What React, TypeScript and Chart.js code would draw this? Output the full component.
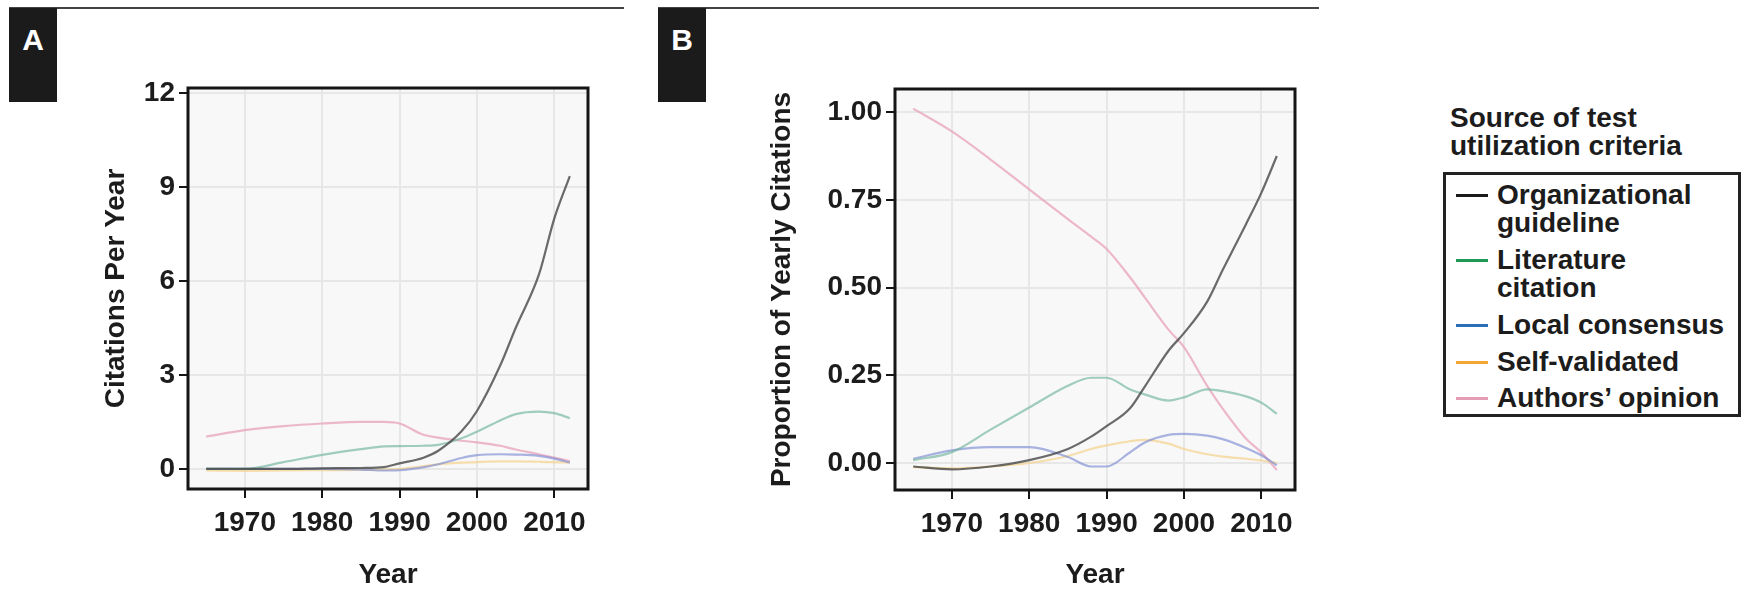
import { useEffect, useRef } from "react";
import { Chart, registerables } from "chart.js";
Chart.register(...registerables);

// ---------- data ----------
const years = [1965, 1970, 1975, 1980, 1985, 1988, 1990, 1993, 1995, 1998, 2000, 2003, 2005, 2008, 2010, 2012];
const seriesNames = ["Organizational guideline", "Literature citation", "Local consensus", "Self-validated", "Authors’ opinion"];

// Panel A: citations per year
const orgA = [0.0, 0.0, 0.0, 0.02, 0.03, 0.06, 0.18, 0.35, 0.58, 1.2, 1.85, 3.3, 4.5, 6.2, 8.0, 9.35];
const litA = [0.0, 0.0, 0.22, 0.45, 0.63, 0.72, 0.73, 0.74, 0.77, 0.98, 1.19, 1.55, 1.75, 1.83, 1.78, 1.62];
const locA = [0.0, 0.0, 0.0, 0.0, -0.02, -0.05, -0.04, 0.05, 0.15, 0.35, 0.44, 0.47, 0.46, 0.42, 0.33, 0.2];
const selfA = [-0.05, -0.06, -0.05, -0.04, -0.03, -0.02, 0.0, 0.08, 0.15, 0.2, 0.22, 0.24, 0.24, 0.23, 0.22, 0.2];
const authA = [1.03, 1.24, 1.37, 1.45, 1.5, 1.5, 1.45, 1.1, 1.0, 0.9, 0.85, 0.74, 0.62, 0.47, 0.36, 0.25];

// Panel B: proportion of yearly citations
const orgB = [-0.01, -0.018, -0.01, 0.008, 0.04, 0.075, 0.105, 0.155, 0.22, 0.32, 0.37, 0.46, 0.55, 0.68, 0.77, 0.875];
const litB = [0.008, 0.031, 0.095, 0.158, 0.22, 0.243, 0.243, 0.21, 0.195, 0.178, 0.187, 0.21, 0.205, 0.19, 0.172, 0.14];
const locB = [0.012, 0.036, 0.045, 0.045, 0.017, -0.01, -0.01, 0.03, 0.059, 0.08, 0.083, 0.078, 0.068, 0.043, 0.022, -0.007];
const selfB = [-0.012, -0.015, -0.01, 0.0, 0.02, 0.04, 0.05, 0.062, 0.066, 0.055, 0.04, 0.025, 0.018, 0.012, 0.007, 0.0];
const authB = [1.01, 0.945, 0.865, 0.78, 0.695, 0.645, 0.61, 0.53, 0.47, 0.38, 0.33, 0.22, 0.155, 0.07, 0.03, -0.02];

const xTicks = [1970, 1980, 1990, 2000, 2010];
const yTicksA = [0, 3, 6, 9, 12];
const yTicksB = [0, 0.25, 0.5, 0.75, 1.0];

// ---------- styles ----------
const lineColors = [
  "rgba(70,70,70,0.8)",
  "rgba(110,180,155,0.65)",
  "rgba(125,140,210,0.65)",
  "rgba(245,210,140,0.7)",
  "rgba(232,158,184,0.72)",
];
const legendColors = ["#1a1a1a", "#1f9a55", "#2a6fb8", "#f4a733", "#e39bb6"];
const FONT = '"Liberation Sans", Arial, Helvetica, sans-serif';
const TEXT = "#1c1c1c";

const framePlugin = {
  id: "frame",
  beforeDraw(chart: any) {
    const { ctx, chartArea } = chart;
    const { left, top, width, height } = chartArea;
    ctx.save();
    ctx.fillStyle = "#f8f8f8";
    ctx.fillRect(left, top, width, height);
    ctx.restore();
  },
  afterDraw(chart: any) {
    const { ctx, chartArea } = chart;
    const { left, top, width, height } = chartArea;
    ctx.save();
    ctx.strokeStyle = "#151515";
    ctx.lineWidth = 3;
    ctx.strokeRect(left, top, width, height);
    ctx.restore();
  },
};

type PanelCfg = {
  series: number[][];
  yMin: number;
  yMax: number;
  yTicks: number[];
  yFmt: (v: number) => string;
  yTitle: string;
  padding: { left: number; right: number; top: number; bottom: number };
  yAxisWidth: number;
  xAxisHeight: number;
  yTitlePad: number;
};

function makeChart(canvas: HTMLCanvasElement, cfg: PanelCfg) {
  const tickFont = { family: FONT, size: 28, weight: "bold" as const, lineHeight: 1.2 };
  const titleFont = { family: FONT, size: 28, weight: "bold" as const, lineHeight: 1.0 };
  return new Chart(canvas, {
    type: "line",
    data: {
      datasets: cfg.series.map((vals, i) => ({
        label: seriesNames[i],
        data: years.map((yr, j) => ({ x: yr, y: vals[j] })),
        borderColor: lineColors[i],
        backgroundColor: lineColors[i],
        borderWidth: 2.2,
        pointRadius: 0,
        fill: false,
        cubicInterpolationMode: "monotone" as const,
      })),
    },
    options: {
      responsive: false,
      animation: false,
      devicePixelRatio: 1,
      layout: { padding: cfg.padding },
      plugins: { legend: { display: false }, tooltip: { enabled: false } },
      scales: {
        x: {
          type: "linear",
          min: 1962.65,
          max: 2014.35,
          afterBuildTicks: (s: any) => {
            s.ticks = xTicks.map((v) => ({ value: v }));
          },
          afterFit: (s: any) => {
            s.height = cfg.xAxisHeight;
          },
          grid: { color: "#e7e7e7", lineWidth: 2, tickColor: "#151515", tickWidth: 2, tickLength: 9 },
          border: { display: false },
          ticks: { font: tickFont, color: TEXT, padding: 8, maxRotation: 0, autoSkip: false, callback: (v: any) => String(v) },
          title: { display: true, text: "Year", font: titleFont, color: TEXT, padding: { top: 0, bottom: 1 } },
        },
        y: {
          type: "linear",
          min: cfg.yMin,
          max: cfg.yMax,
          afterBuildTicks: (s: any) => {
            s.ticks = cfg.yTicks.map((v) => ({ value: v }));
          },
          afterFit: (s: any) => {
            s.width = cfg.yAxisWidth;
          },
          grid: { color: "#e7e7e7", lineWidth: 2, tickColor: "#151515", tickWidth: 2, tickLength: 9 },
          border: { display: false },
          ticks: { font: tickFont, color: TEXT, padding: 4, autoSkip: false, callback: (v: any) => cfg.yFmt(Number(v)) },
          title: { display: true, text: cfg.yTitle, font: titleFont, color: TEXT, padding: { top: cfg.yTitlePad, bottom: 0 } },
        },
      },
    } as any,
    plugins: [framePlugin],
  });
}

function PanelTag({ x, letter, ruleEnd }: { x: number; letter: string; ruleEnd: number }) {
  return (
    <>
      <div style={{ position: "absolute", left: x, top: 7, width: ruleEnd - x, height: 2, background: "#444" }} />
      <div
        style={{
          position: "absolute",
          left: x,
          top: 8,
          width: 48,
          height: 94,
          background: "#1b1b1b",
          color: "#fff",
          fontFamily: FONT,
          fontWeight: "bold",
          fontSize: 30,
          lineHeight: "30px",
          textAlign: "center",
          paddingTop: 17,
          boxSizing: "border-box",
        }}
      >
        {letter}
      </div>
    </>
  );
}

export default function App() {
  const refA = useRef<HTMLCanvasElement>(null);
  const refB = useRef<HTMLCanvasElement>(null);

  useEffect(() => {
    const a = makeChart(refA.current!, {
      series: [orgA, litA, locA, selfA, authA],
      yMin: -0.64,
      yMax: 12.16,
      yTicks: yTicksA,
      yFmt: (v) => String(v),
      yTitle: "Citations Per Year",
      padding: { left: 0, right: 52, top: 88, bottom: 0 },
      yAxisWidth: 188,
      xAxisHeight: 101,
      yTitlePad: 102,
    });
    const b = makeChart(refB.current!, {
      series: [orgB, litB, locB, selfB, authB],
      yMin: -0.077,
      yMax: 1.066,
      yTicks: yTicksB,
      yFmt: (v) => v.toFixed(2),
      yTitle: "Proportion of Yearly Citations",
      padding: { left: 0, right: 45, top: 89, bottom: 0 },
      yAxisWidth: 255,
      xAxisHeight: 100,
      yTitlePad: 128,
    });
    return () => {
      a.destroy();
      b.destroy();
    };
  }, []);

  const entries = [
    { lines: ["Organizational", "guideline"], top: 6 },
    { lines: ["Literature", "citation"], top: 71 },
    { lines: ["Local consensus"], top: 136 },
    { lines: ["Self-validated"], top: 173 },
    { lines: ["Authors’ opinion"], top: 209 },
  ];

  return (
    <div style={{ position: "absolute", left: 0, top: 0, width: 1749, height: 590, background: "#fff", overflow: "hidden" }}>
      <PanelTag x={9} letter="A" ruleEnd={624} />
      <PanelTag x={658} letter="B" ruleEnd={1319} />
      <canvas ref={refA} width={640} height={590} style={{ position: "absolute", left: 0, top: 0, width: 640, height: 590 }} />
      <canvas ref={refB} width={700} height={590} style={{ position: "absolute", left: 640, top: 0, width: 700, height: 590 }} />
      <div
        style={{
          position: "absolute",
          left: 1450,
          top: 104,
          fontFamily: FONT,
          fontWeight: "bold",
          fontSize: 28,
          lineHeight: "28px",
          color: TEXT,
          whiteSpace: "nowrap",
        }}
      >
        Source of test
        <br />
        utilization criteria
      </div>
      <div
        style={{
          position: "absolute",
          left: 1443,
          top: 172,
          width: 298,
          height: 245,
          border: "3px solid #222",
          boxSizing: "border-box",
          fontFamily: FONT,
          fontWeight: "bold",
          fontSize: 28,
          lineHeight: "28px",
          color: TEXT,
        }}
      >
        {entries.map((e, i) => (
          <div key={i} style={{ position: "absolute", left: 0, top: e.top, width: "100%" }}>
            <div style={{ position: "absolute", left: 10, top: 13, width: 32, height: 3, background: legendColors[i] }} />
            <div style={{ position: "absolute", left: 51, top: 0, whiteSpace: "nowrap" }}>
              {e.lines.map((l, k) => (
                <div key={k}>{l}</div>
              ))}
            </div>
          </div>
        ))}
      </div>
    </div>
  );
}
